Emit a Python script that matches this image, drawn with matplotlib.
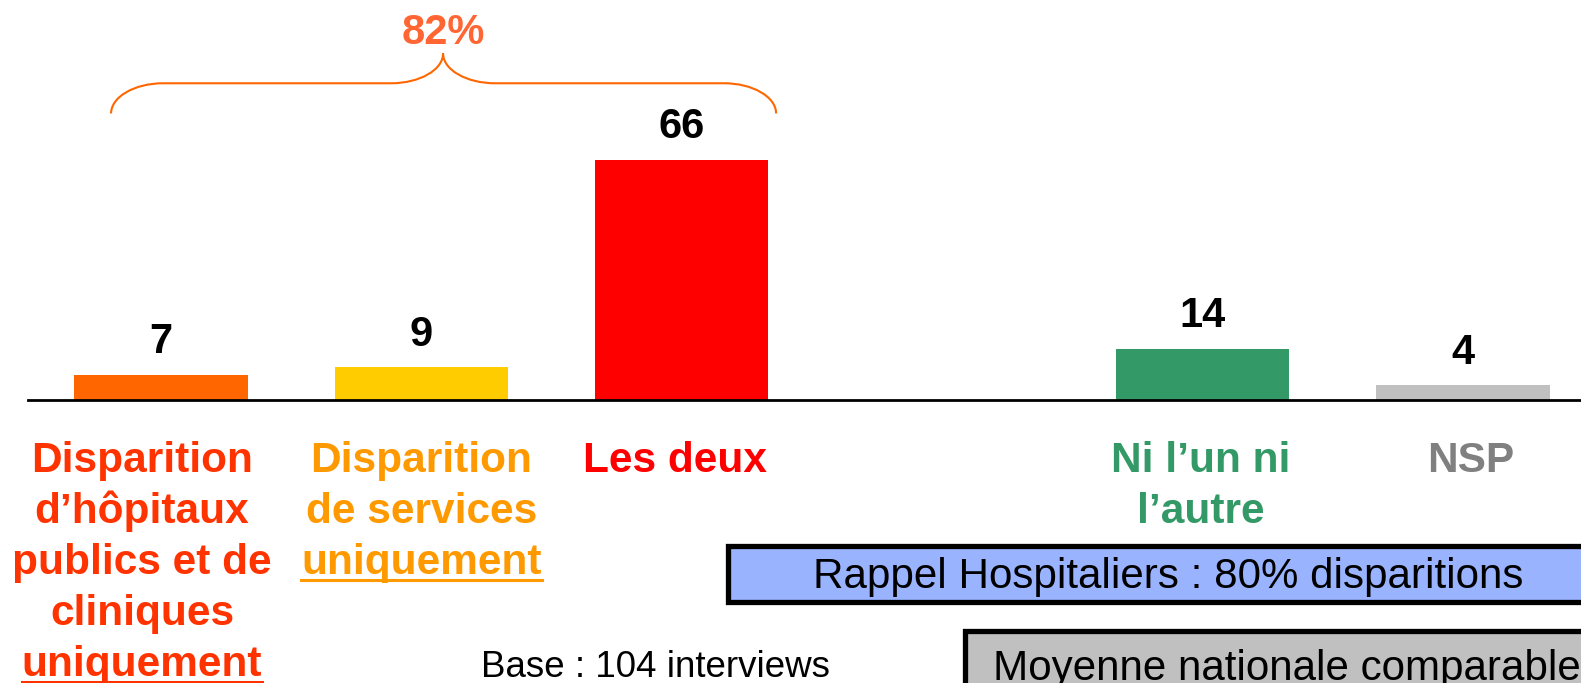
import matplotlib
matplotlib.use("Agg")
import matplotlib.pyplot as plt
from matplotlib.path import Path
from matplotlib.patches import PathPatch, Rectangle
from matplotlib.lines import Line2D
import matplotlib.transforms as mtransforms

plt.rcParams["font.family"] = ["Liberation Sans", "DejaVu Sans"]

# data
categories = [
    ["Disparition", "d\u2019hôpitaux", "publics et de", "cliniques", "uniquement"],
    ["Disparition", "de services", "uniquement"],
    ["Les deux"],
    ["Ni l\u2019un ni", "l\u2019autre"],
    ["NSP"],
]
underlined = [True, True, False, False, False]
values = [7, 9, 66, 14, 4]
positions = [0, 1, 2, 4, 5]
bar_colors = ["#FF6600", "#FFCC00", "#FF0000", "#339966", "#C0C0C0"]
label_colors = ["#FF3300", "#FF9900", "#FF0000", "#339966", "#808080"]
label_shift = [-0.073, 0.0, -0.028, -0.006, 0.03]
total_label = "82%"
base_text = "Base : 104 interviews"
rappel_text = "Rappel Hospitaliers : 80% disparitions"
moyenne_text = "Moyenne nationale comparable"

W, H = 1581, 683
fig = plt.figure(figsize=(W / 100, H / 100), dpi=100)
ax = fig.add_axes([28 / W, (H - 400) / H, 1 - 28 / W, 400 / H])
ax.set_xlim(-0.511, 5.453)
ax.set_ylim(0, 110)
ax.bar(positions, values, width=0.665, color=bar_colors, zorder=2)
for s in ["top", "right", "left"]:
    ax.spines[s].set_visible(False)
ax.spines["bottom"].set_linewidth(2)
ax.set_xticks([])
ax.set_yticks([])

for p, v in zip(positions, values):
    ax.text(p, v + 3.5, str(v), ha="center", va="bottom", fontsize=30,
            fontweight="bold", color="black")

# category labels, one line at a time so the last word can be underlined
trans = mtransforms.blended_transform_factory(ax.transData, fig.transFigure)
baseline0 = 472
line_step = 51
under_texts = []
for p, dx, lines, col, ul in zip(positions, label_shift, categories,
                                 label_colors, underlined):
    for i, line in enumerate(lines):
        y = 1 - (baseline0 + i * line_step) / H
        t = fig.text(p + dx, y, line, transform=trans, ha="center",
                     va="baseline", fontsize=30.5, fontweight="bold", color=col)
        if ul and i == len(lines) - 1:
            under_texts.append((t, col))

# brace over the first three bars
bx0, bx1, bxm = -0.192, 2.362, 1.083
y_end, y_top, y_peak = 78.8, 87.1, 95.3
r = 0.2
k = 0.55
verts = [
    (bx0, y_end), (bx0, y_end + k * (y_top - y_end)),
    (bx0 + r * (1 - k), y_top), (bx0 + r, y_top),
    (bxm - r, y_top),
    (bxm - r * (1 - k), y_top), (bxm, y_peak - k * (y_peak - y_top)), (bxm, y_peak),
    (bxm, y_peak - k * (y_peak - y_top)), (bxm + r * (1 - k), y_top), (bxm + r, y_top),
    (bx1 - r, y_top),
    (bx1 - r * (1 - k), y_top), (bx1, y_end + k * (y_top - y_end)), (bx1, y_end),
]
codes = [Path.MOVETO, Path.CURVE4, Path.CURVE4, Path.CURVE4,
         Path.LINETO,
         Path.CURVE4, Path.CURVE4, Path.CURVE4,
         Path.CURVE4, Path.CURVE4, Path.CURVE4,
         Path.LINETO,
         Path.CURVE4, Path.CURVE4, Path.CURVE4]
ax.add_patch(PathPatch(Path(verts, codes), fill=False, edgecolor="#FF6600",
                       linewidth=1.5, clip_on=False))
ax.text(bxm, 100.8, total_label, ha="center", va="center", fontsize=30,
        fontweight="bold", color="#FF6633", clip_on=False)

# notes and boxes
fig.text(481 / W, 1 - 677 / H, base_text, ha="left", va="baseline",
         fontsize=26.5, color="black")
fig.patches.append(Rectangle((728 / W, 1 - 602 / H), 0.6, 56.5 / H,
                             transform=fig.transFigure, facecolor="#99B3FF",
                             edgecolor="black", linewidth=3.8))
fig.text(1168 / W, 1 - 588 / H, rappel_text, ha="center", va="baseline",
         fontsize=30.3, color="black")
fig.patches.append(Rectangle((965 / W, -0.1), 0.6, (H - 631) / H + 0.1,
                             transform=fig.transFigure, facecolor="#C0C0C0",
                             edgecolor="black", linewidth=3.8))
fig.text(993 / W, 1 - 680 / H, moyenne_text, ha="left", va="baseline",
         fontsize=30.3, color="black")

# underline the "uniquement" words
fig.canvas.draw()
rend = fig.canvas.get_renderer()
for t, col in under_texts:
    bb = t.get_window_extent(rend)
    x0, x1 = bb.x0, bb.x1
    yb = t.get_transform().transform(t.get_position())[1] - 6
    fig.add_artist(Line2D([x0 / W, x1 / W], [yb / H, yb / H], color=col,
                          linewidth=2.2, transform=fig.transFigure))

fig.savefig("out.png", dpi=100)
